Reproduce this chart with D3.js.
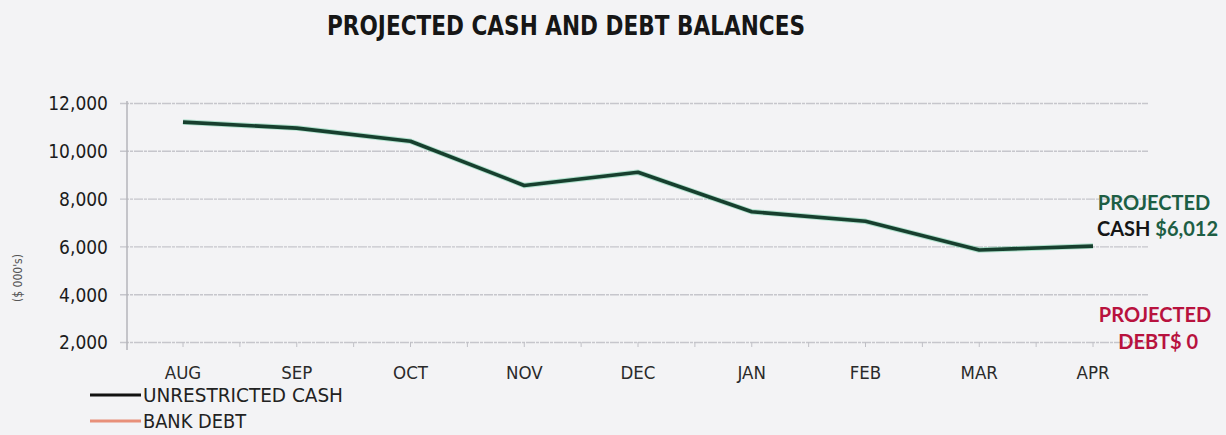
<!DOCTYPE html>
<html>
<head>
<meta charset="utf-8">
<script src="https://cdn.jsdelivr.net/npm/d3@7"></script>
<style>
  html, body { margin: 0; padding: 0; background: #f3f3f5; }
  svg { display: block; }
</style>
</head>
<body>
<svg id="chart" width="1226" height="435"></svg>
<script>
// Monthly projections, $ thousands
const months = ["AUG", "SEP", "OCT", "NOV", "DEC", "JAN", "FEB", "MAR", "APR"];
const unrestrictedCash = [11200, 10950, 10400, 8550, 9100, 7450, 7050, 5850, 6012];
const bankDebt = [0, 0, 0, 0, 0, 0, 0, 0, 0];
const yTicks = [2000, 4000, 6000, 8000, 10000, 12000];
const seriesNames = ["UNRESTRICTED CASH", "BANK DEBT"];

const svg = d3.select("#chart");
const W = 1226, H = 435;

const plot = { left: 127, right: 1148, top: 103, bottom: 342 };

const x = d3.scalePoint().domain(months).range([183, 1093]);
const y = d3.scaleLinear().domain([2000, 12000]).range([plot.bottom, plot.top]);

const fmt = d3.format(",");
const numFont = "'DejaVu Sans Condensed', 'DejaVu Sans', sans-serif";
const labelFont = "Lato, 'Open Sans', sans-serif";

svg.append("rect").attr("width", W).attr("height", H).attr("fill", "#f3f3f5");

// Title
svg.append("text")
  .attr("x", 566).attr("y", 35)
  .attr("text-anchor", "middle")
  .attr("font-family", "'DejaVu Sans', Verdana, sans-serif")
  .attr("font-weight", "bold")
  .attr("font-size", 26)
  .attr("textLength", 478)
  .attr("lengthAdjust", "spacingAndGlyphs")
  .attr("fill", "#161616")
  .text("PROJECTED CASH AND DEBT BALANCES");

// Horizontal gridlines and value labels
const yAxis = d3.axisLeft(y)
  .tickValues(yTicks)
  .tickFormat(fmt)
  .tickSize(-(plot.right - plot.left))
  .tickPadding(19);

const gy = svg.append("g")
  .attr("transform", `translate(${plot.left},0)`)
  .call(yAxis);
gy.select(".domain").remove();
gy.selectAll(".tick line")
  .attr("stroke", "#c6c6cc")
  .attr("stroke-width", 1.4)
  .attr("stroke-dasharray", "9 1 3 1")
  .attr("x1", -7);
gy.selectAll(".tick text")
  .attr("font-family", numFont)
  .attr("font-size", 19)
  .attr("fill", "#1c1c1c")
  .attr("dy", "0.36em");

// Vertical value axis line
svg.append("line")
  .attr("x1", plot.left).attr("x2", plot.left)
  .attr("y1", plot.top - 2).attr("y2", plot.bottom + 8)
  .attr("stroke", "#b4b4ba").attr("stroke-width", 1.5);

// Category ticks along the base
const halfStep = x.step() / 2;
const catTicks = [];
months.forEach((m, i) => {
  catTicks.push(x(m));
  if (i < months.length - 1) catTicks.push(x(m) + halfStep);
});
svg.append("g").selectAll("line").data(catTicks).join("line")
  .attr("x1", d => d).attr("x2", d => d)
  .attr("y1", plot.bottom).attr("y2", plot.bottom + 5)
  .attr("stroke", "#c0c0c6").attr("stroke-width", 1);

// Month labels
svg.append("g").selectAll("text").data(months).join("text")
  .attr("x", d => x(d)).attr("y", 379)
  .attr("text-anchor", "middle")
  .attr("font-family", numFont)
  .attr("font-size", 18.5)
  .attr("fill", "#2a2a2a")
  .text(d => d);

// Axis title
svg.append("text")
  .attr("transform", "translate(22,278) rotate(-90)")
  .attr("text-anchor", "middle")
  .attr("font-family", numFont)
  .attr("font-size", 12)
  .attr("fill", "#555")
  .text("($ 000's)");

// Series lines, clipped to the plot area
svg.append("clipPath").attr("id", "plotClip")
  .append("rect")
  .attr("x", plot.left).attr("y", plot.top - 10)
  .attr("width", plot.right - plot.left).attr("height", plot.bottom - plot.top + 10);

const line = d3.line()
  .x((d, i) => x(months[i]))
  .y(d => y(d));

const lines = svg.append("g").attr("clip-path", "url(#plotClip)");

lines.append("path").datum(bankDebt)
  .attr("d", line)
  .attr("fill", "none")
  .attr("stroke", "#e8907a")
  .attr("stroke-width", 3);

lines.append("path").datum(unrestrictedCash)
  .attr("d", line)
  .attr("fill", "none")
  .attr("stroke", "#5ec99c")
  .attr("stroke-width", 5.5)
  .attr("stroke-opacity", 0.45)
  .attr("stroke-linejoin", "round");

lines.append("path").datum(unrestrictedCash)
  .attr("d", line)
  .attr("fill", "none")
  .attr("stroke", "#173f2e")
  .attr("stroke-width", 3.6)
  .attr("stroke-linejoin", "round");

// Legend
const legend = svg.append("g");
const legendColors = ["#111111", "#e8907a"];
const legendY = [395, 421];
const legendWidths = [200, 103];
seriesNames.forEach((name, i) => {
  legend.append("line")
    .attr("x1", 90).attr("x2", 141)
    .attr("y1", legendY[i]).attr("y2", legendY[i])
    .attr("stroke", legendColors[i])
    .attr("stroke-width", 3);
  legend.append("text")
    .attr("x", 143).attr("y", legendY[i] + 7)
    .attr("font-family", numFont)
    .attr("font-size", 19)
    .attr("textLength", legendWidths[i])
    .attr("lengthAdjust", "spacingAndGlyphs")
    .attr("fill", "#222")
    .text(name);
});

// End-of-period callouts
const lastCash = unrestrictedCash[unrestrictedCash.length - 1];
const lastDebt = bankDebt[bankDebt.length - 1];
const green = "#1d5e44";
const crimson = "#b8123e";

svg.append("text")
  .attr("x", 1154).attr("y", 210)
  .attr("text-anchor", "middle")
  .attr("font-family", labelFont).attr("font-weight", "bold")
  .attr("font-size", 20).attr("fill", green)
  .text("PROJECTED");

const cashLine = svg.append("text")
  .attr("x", 1218).attr("y", 236)
  .attr("text-anchor", "end")
  .attr("font-family", labelFont).attr("font-weight", "bold")
  .attr("font-size", 20);
cashLine.append("tspan").attr("fill", "#161616").text("CASH ");
cashLine.append("tspan").attr("fill", green).text("$" + fmt(lastCash));

svg.append("text")
  .attr("x", 1155).attr("y", 322)
  .attr("text-anchor", "middle")
  .attr("font-family", labelFont).attr("font-weight", "bold")
  .attr("font-size", 20).attr("fill", crimson)
  .text("PROJECTED");

svg.append("text")
  .attr("x", 1198).attr("y", 349)
  .attr("text-anchor", "end")
  .attr("font-family", labelFont).attr("font-weight", "bold")
  .attr("font-size", 20).attr("fill", crimson)
  .text("DEBT$ " + fmt(lastDebt));
</script>
</body>
</html>
